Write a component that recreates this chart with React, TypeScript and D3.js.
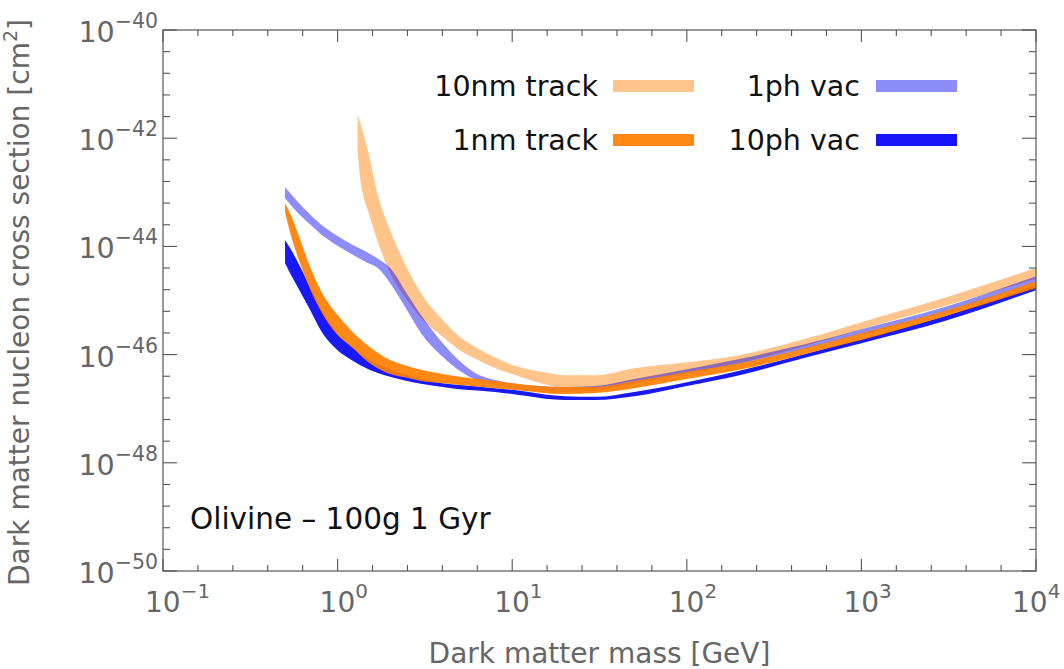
import React from "react";
import * as d3 from "d3";

const W = 1064;
const H = 669;
const plot = { left: 163, right: 1036, top: 30, bottom: 571 };

// Dark matter mass grids [GeV]
const massTrack10nm = [1.3, 1.35, 1.4, 1.5, 1.7, 2, 2.5, 3, 4, 5, 6, 8, 10, 15, 20, 30, 50, 100, 200, 500, 1000, 3000, 10000];
const massTrack1nm = [0.5, 0.55, 0.6, 0.7, 0.8, 1, 1.2, 1.5, 2, 2.5, 3, 4, 5, 8, 10, 20, 30, 50, 100, 200, 500, 1000, 3000, 10000];
const massVac1ph = [0.5, 0.6, 0.7, 0.8, 1, 1.2, 1.5, 1.7, 2, 2.5, 3, 4, 5, 6, 8, 10, 20, 30, 50, 100, 200, 500, 1000, 3000, 10000];
const massVac10ph = [0.5, 0.55, 0.6, 0.7, 0.8, 1, 1.2, 1.5, 2, 2.5, 3, 4, 5, 8, 10, 20, 30, 50, 100, 200, 500, 1000, 3000, 10000];

// log10 of the cross section [cm^2]: upper and lower edge of each band
const track10nmUpper = [-41.57, -41.72, -41.9, -42.26, -43.05, -43.7, -44.4, -44.86, -45.36, -45.67, -45.84, -46.06, -46.19, -46.32, -46.38, -46.38, -46.25, -46.14, -46.01, -45.69, -45.4, -44.95, -44.4];
const track10nmLower = [-42.22, -42.77, -43.05, -43.36, -43.92, -44.49, -44.99, -45.32, -45.67, -45.92, -46.06, -46.25, -46.36, -46.54, -46.62, -46.64, -46.53, -46.34, -46.16, -45.82, -45.53, -45.1, -44.6];

const track1nmUpper = [-43.2, -43.48, -43.81, -44.4, -44.81, -45.27, -45.56, -45.84, -46.1, -46.21, -46.28, -46.36, -46.41, -46.49, -46.53, -46.6, -46.6, -46.49, -46.32, -46.16, -45.86, -45.6, -45.19, -44.64];
const track1nmLower = [-43.38, -43.88, -44.25, -44.81, -45.19, -45.64, -45.86, -46.14, -46.36, -46.43, -46.49, -46.53, -46.56, -46.62, -46.65, -46.73, -46.71, -46.62, -46.45, -46.28, -45.97, -45.73, -45.29, -44.77];

const vac1phUpper = [-42.9, -43.2, -43.42, -43.59, -43.81, -43.96, -44.12, -44.23, -44.4, -44.88, -45.27, -45.79, -46.12, -46.32, -46.47, -46.53, -46.6, -46.58, -46.45, -46.27, -46.08, -45.79, -45.53, -45.12, -44.55];
const vac1phLower = [-43.11, -43.4, -43.6, -43.77, -43.99, -44.14, -44.31, -44.4, -44.68, -45.18, -45.6, -46.04, -46.3, -46.45, -46.56, -46.62, -46.69, -46.67, -46.54, -46.36, -46.17, -45.88, -45.64, -45.23, -44.68];

const vac10phUpper = [-43.88, -44.1, -44.33, -44.77, -45.14, -45.62, -45.84, -46.08, -46.27, -46.38, -46.45, -46.53, -46.56, -46.62, -46.65, -46.77, -46.78, -46.69, -46.51, -46.3, -45.97, -45.71, -45.29, -44.71];
const vac10phLower = [-44.31, -44.57, -44.79, -45.19, -45.55, -45.92, -46.1, -46.27, -46.41, -46.49, -46.54, -46.6, -46.64, -46.69, -46.73, -46.84, -46.84, -46.77, -46.58, -46.38, -46.04, -45.79, -45.38, -44.81];

// Axis tick exponents
const xTickExponents = [-1, 0, 1, 2, 3, 4];
const yTickExponents = [-40, -42, -44, -46, -48, -50];

const ORANGE = "rgb(255,127,0)";
const BLUE = "rgb(0,0,245)";

type Band = { name: string; mass: number[]; upper: number[]; lower: number[]; color: string; opacity: number };

const bands: Band[] = [
  { name: "10nm track", mass: massTrack10nm, upper: track10nmUpper, lower: track10nmLower, color: ORANGE, opacity: 0.46 },
  { name: "1ph vac", mass: massVac1ph, upper: vac1phUpper, lower: vac1phLower, color: BLUE, opacity: 0.45 },
  { name: "10ph vac", mass: massVac10ph, upper: vac10phUpper, lower: vac10phLower, color: BLUE, opacity: 0.9 },
  { name: "1nm track", mass: massTrack1nm, upper: track1nmUpper, lower: track1nmLower, color: ORANGE, opacity: 0.92 },
];

// Legend layout: [label, colour, opacity, column, row]
const legendItems: [string, string, number, number, number][] = [
  ["10nm track", ORANGE, 0.46, 0, 0],
  ["1ph vac", BLUE, 0.45, 1, 0],
  ["1nm track", ORANGE, 0.92, 0, 1],
  ["10ph vac", BLUE, 0.92, 1, 1],
];

const FONT = "DejaVu Sans, Verdana, sans-serif";
const AXIS_GRAY = "#555";
const TEXT_GRAY = "#666";

export default function App() {
  const x = d3.scaleLog().domain([0.1, 1e4]).range([plot.left, plot.right]);
  const y = d3.scaleLog().domain([1e-50, 1e-40]).range([plot.bottom, plot.top]);

  const bandPath = (b: Band) => {
    const rows = b.mass.map((m, i) => ({ m, hi: Math.pow(10, b.upper[i]), lo: Math.pow(10, b.lower[i]) }));
    return d3
      .area<{ m: number; hi: number; lo: number }>()
      .x((d) => x(d.m))
      .y0((d) => y(d.lo))
      .y1((d) => y(d.hi))
      .curve(d3.curveMonotoneX)(rows) as string;
  };

  // minor ticks: every 0.2 decade in mass, every 0.4 decade in cross section
  const xMinor: number[] = [];
  for (let k = -5; k <= 20; k++) {
    if (k % 5 !== 0) xMinor.push(Math.pow(10, k / 5));
  }
  const yMinor: number[] = [];
  for (let k = -125; k <= -100; k++) {
    if (k % 5 !== 0) yMinor.push(Math.pow(10, (k * 2) / 5));
  }

  const xMajLen = 12, xMinLen = 6, yMajLen = 14, yMinLen = 7;

  const colX = [598, 860];
  const rowY = [86, 140];
  const swatchX = [613, 876];
  const swatchW = 81;

  // x labels: "10" centred on the tick, kept inside the page on the right
  const xLabelStart = (px: number) => Math.min(px - 18, W - 52);

  return (
    <svg width={W} height={H} style={{ position: "absolute", left: 0, top: 0, background: "#fff" }} fontFamily={FONT}>
      <rect x={0} y={0} width={W} height={H} fill="#fff" />

      <defs>
        <clipPath id="plotClip">
          <rect x={plot.left} y={plot.top} width={plot.right - plot.left} height={plot.bottom - plot.top} />
        </clipPath>
      </defs>

      <g clipPath="url(#plotClip)">
        {bands.map((b) => (
          <path key={b.name} d={bandPath(b)} fill={b.color} fillOpacity={b.opacity} stroke="none" />
        ))}
      </g>

      {/* frame */}
      <rect
        x={plot.left}
        y={plot.top}
        width={plot.right - plot.left}
        height={plot.bottom - plot.top}
        fill="none"
        stroke={AXIS_GRAY}
        strokeWidth={1.2}
      />

      {/* ticks on all four sides */}
      <g stroke={AXIS_GRAY} strokeWidth={1.1}>
        {xTickExponents.map((e) => {
          const px = x(Math.pow(10, e));
          return (
            <g key={"xm" + e}>
              <line x1={px} x2={px} y1={plot.bottom} y2={plot.bottom - xMajLen} />
              <line x1={px} x2={px} y1={plot.top} y2={plot.top + xMajLen} />
            </g>
          );
        })}
        {xMinor.map((v, i) => {
          const px = x(v);
          return (
            <g key={"xn" + i}>
              <line x1={px} x2={px} y1={plot.bottom} y2={plot.bottom - xMinLen} />
              <line x1={px} x2={px} y1={plot.top} y2={plot.top + xMinLen} />
            </g>
          );
        })}
        {yTickExponents.map((e) => {
          const py = y(Math.pow(10, e));
          return (
            <g key={"ym" + e}>
              <line x1={plot.left} x2={plot.left + yMajLen} y1={py} y2={py} />
              <line x1={plot.right} x2={plot.right - yMajLen} y1={py} y2={py} />
            </g>
          );
        })}
        {yMinor.map((v, i) => {
          const py = y(v);
          return (
            <g key={"yn" + i}>
              <line x1={plot.left} x2={plot.left + yMinLen} y1={py} y2={py} />
              <line x1={plot.right} x2={plot.right - yMinLen} y1={py} y2={py} />
            </g>
          );
        })}
      </g>

      {/* x tick labels */}
      <g fill={TEXT_GRAY}>
        {xTickExponents.map((e) => {
          const px = x(Math.pow(10, e));
          return (
            <text key={"xl" + e} x={xLabelStart(px)} y={612} fontSize={28}>
              10
              <tspan dy={-14} fontSize={20}>
                {e < 0 ? "\u2212" + Math.abs(e) : String(e)}
              </tspan>
            </text>
          );
        })}
      </g>

      {/* y tick labels */}
      <g fill={TEXT_GRAY}>
        {yTickExponents.map((e) => {
          const py = y(Math.pow(10, e));
          return (
            <text key={"yl" + e} x={158} y={py + 12} fontSize={28.5} textAnchor="end">
              10
              <tspan dy={-14} fontSize={20.5}>
                {"\u2212" + Math.abs(e)}
              </tspan>
            </text>
          );
        })}
      </g>

      {/* axis titles */}
      <text x={(plot.left + plot.right) / 2} y={663} fontSize={28} fill={TEXT_GRAY} textAnchor="middle">
        Dark matter mass [GeV]
      </text>
      <text
        transform={`translate(29,${(plot.top + plot.bottom) / 2 + 2}) rotate(-90)`}
        fontSize={28}
        fill={TEXT_GRAY}
        textAnchor="middle"
      >
        Dark matter nucleon cross section [cm
        <tspan dy={-12} fontSize={19}>
          2
        </tspan>
        <tspan dy={12}>]</tspan>
      </text>

      {/* legend */}
      {legendItems.map(([label, color, op, c, r]) => (
        <g key={label}>
          <text x={colX[c]} y={rowY[r] + 10} fontSize={28.5} textAnchor="end" fill="#111">
            {label}
          </text>
          <rect x={swatchX[c]} y={rowY[r] - 6} width={swatchW} height={12} fill={color} fillOpacity={op} />
        </g>
      ))}

      {/* sample annotation */}
      <text x={190} y={529} fontSize={29.5} fill="#111">
        Olivine – 100g 1 Gyr
      </text>
    </svg>
  );
}
